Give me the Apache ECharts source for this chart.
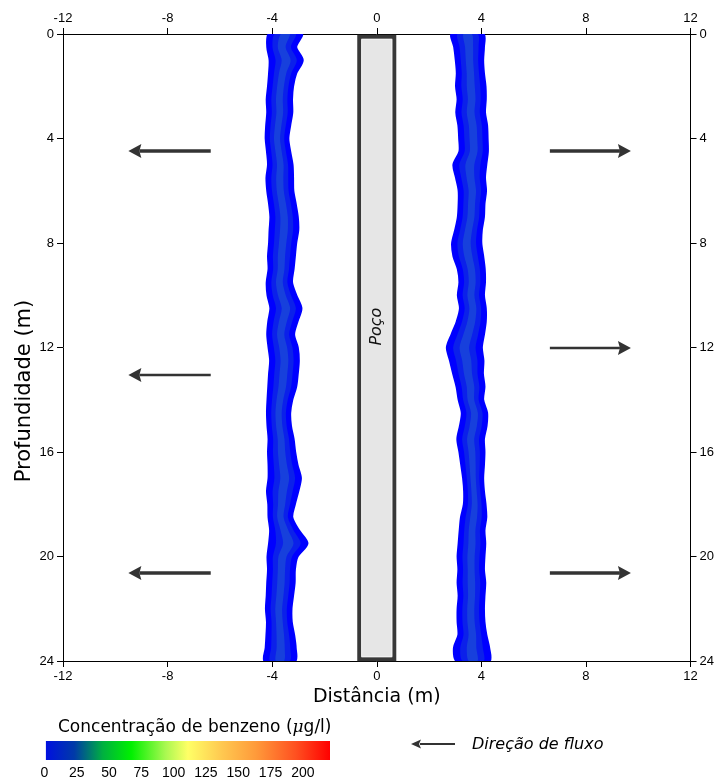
<!DOCTYPE html>
<html><head><meta charset="utf-8">
<script src="https://cdn.jsdelivr.net/npm/echarts@6/dist/echarts.min.js"></script>
<style>html,body{margin:0;padding:0;background:#fff}#c{width:717px;height:782px}</style>
</head><body><div id="c"></div>
<script>
// ---- data ----
const depths = [0,0.5,1,1.5,2,2.5,3,3.5,4,4.5,5,5.5,6,6.5,7,7.5,8,8.5,9,9.5,10,10.5,11,11.5,12,12.5,13,13.5,14,14.5,15,15.5,16,16.5,17,17.5,18,18.5,19,19.5,20,20.5,21,21.5,22,22.5,23,23.5,24];
// left plume: left edge / right edge (m)
const leftBandL = [-4.10,-4.17,-4.08,-4.10,-4.14,-4.19,-4.17,-4.21,-4.23,-4.18,-4.14,-4.20,-4.17,-4.10,-4.05,-4.08,-4.10,-4.14,-4.12,-4.19,-4.16,-4.05,-4.13,-4.17,-4.12,-4.06,-4.10,-4.13,-4.16,-4.18,-4.16,-4.12,-4.14,-4.12,-4.12,-4.18,-4.13,-4.12,-4.06,-4.10,-4.16,-4.14,-4.17,-4.19,-4.22,-4.18,-4.20,-4.23,-4.27];
const leftBandR = [-2.89,-3.10,-2.85,-3.10,-3.22,-3.26,-3.25,-3.33,-3.40,-3.33,-3.24,-3.22,-3.21,-3.12,-3.04,-3.02,-3.10,-3.15,-3.20,-3.26,-3.10,-2.90,-3.05,-3.18,-3.04,-3.00,-3.04,-3.10,-3.25,-3.33,-3.30,-3.20,-3.14,-3.05,-2.92,-3.02,-3.15,-3.25,-3.00,-2.67,-3.05,-3.15,-3.16,-3.22,-3.28,-3.27,-3.18,-3.12,-3.14];
// right plume: left edge / right edge (m)
const rightBandL = [2.89,2.98,3.04,3.08,3.05,3.11,3.06,3.14,3.17,3.18,2.95,3.05,3.15,3.15,3.12,3.02,2.90,2.95,3.12,3.18,3.12,3.20,3.08,2.88,2.70,2.82,2.94,3.07,3.15,3.27,3.20,3.10,3.18,3.25,3.32,3.36,3.35,3.24,3.19,3.15,3.11,3.14,3.11,3.15,3.11,3.11,3.14,2.97,3.08];
const rightBandR = [4.06,4.08,4.05,4.08,4.14,4.15,4.12,4.20,4.22,4.23,4.17,4.12,4.16,4.10,4.08,4.00,3.98,4.05,4.11,4.12,4.08,4.15,4.15,4.08,4.00,4.06,4.04,4.10,4.05,4.20,4.18,4.08,4.10,4.08,4.05,4.08,4.14,4.17,4.10,4.13,4.10,4.08,4.13,4.10,4.08,4.10,4.17,4.28,4.29];
// well (poço)
const wellX = [-0.67, 0.67];
const wellDepth = [0.11, 23.93];
const wellLabel = ['Poço', 0, 11.2];
// flow arrows: depth, start x, tip x
const arrowDepth = [4.48, 13.05, 20.63, 4.48, 12.02, 20.63];
const arrowFrom  = [-6.35, -6.35, -6.35, 6.62, 6.62, 6.62];
const arrowTo    = [-9.5, -9.5, -9.5, 9.72, 9.72, 9.72];
// colour bar
const cbRange = [0, 221];
const cbTicks = [0, 25, 50, 75, 100, 125, 150, 175, 200];

// ---- styles ----
const arrowStroke = [3.5, 2.5, 3.5, 3.5, 2.5, 3.5];
const tickFont = 'Liberation Sans';
const nameFont = 'DejaVu Sans';

function bandRender(L, R) {
  return function (params, api) {
    const layers = [[1, '#0000ff', 1, 3], [0.66, '#0b20ea', 1, 0], [0.28, '#1d4fd6', 0.7, 0]];
    const children = layers.map(function (ly) {
      const f = ly[0];
      const pts = [];
      for (let i = 0; i < depths.length; i++) {
        const c = (L[i] + R[i]) / 2, h = (R[i] - L[i]) / 2 * f;
        pts.push(api.coord([c - h, depths[i]]));
      }
      for (let i = depths.length - 1; i >= 0; i--) {
        const c = (L[i] + R[i]) / 2, h = (R[i] - L[i]) / 2 * f;
        pts.push(api.coord([c + h, depths[i]]));
      }
      return { type: 'polygon', shape: { points: pts, smooth: 0.3 },
        style: { fill: ly[1], opacity: ly[2], stroke: ly[3] ? ly[1] : null, lineWidth: ly[3], lineJoin: 'round' } };
    });
    return { type: 'group', children: children };
  };
}

const baseX = {
  gridIndex: 0, type: 'value', min: -12, max: 12, interval: 4,
  axisLine: { onZero: false, lineStyle: { color: '#000', width: 1 } },
  axisTick: { length: 6, lineStyle: { color: '#000' } },
  axisLabel: { fontFamily: tickFont, fontSize: 13, color: '#000', margin: 9 },
  splitLine: { show: false }
};
const baseY = {
  gridIndex: 0, type: 'value', inverse: true, min: 0, max: 24, interval: 4,
  axisLine: { onZero: false, lineStyle: { color: '#000', width: 1 } },
  axisTick: { length: 6, lineStyle: { color: '#000' } },
  axisLabel: { fontFamily: tickFont, fontSize: 13, color: '#000', margin: 9 },
  splitLine: { show: false }
};

const chart = echarts.init(document.getElementById('c'), null, { renderer: 'canvas' });
chart.setOption({
  animation: false,
  backgroundColor: '#fff',
  grid: [
    { left: 63, right: 25, top: 34, bottom: 121 },
    { left: 44.4, width: 285.6, top: 741, height: 19 }
  ],
  xAxis: [
    Object.assign({}, baseX, { position: 'bottom', name: 'Distância (m)', nameLocation: 'middle', nameGap: 24,
      nameTextStyle: { fontFamily: nameFont, fontSize: 19, color: '#000' } }),
    Object.assign({}, baseX, { position: 'top' }),
    { gridIndex: 1, type: 'value', min: cbRange[0], max: cbRange[1], interval: 25,
      axisLine: { show: false }, axisTick: { show: false }, splitLine: { show: false },
      axisLabel: { showMaxLabel: false, fontFamily: tickFont, fontSize: 14, color: '#000', margin: 6 } }
  ],
  yAxis: [
    Object.assign({}, baseY, { position: 'left' }),
    Object.assign({}, baseY, { position: 'right' }),
    { gridIndex: 1, type: 'value', min: 0, max: 1, show: false }
  ],
  series: [
    { type: 'custom', xAxisIndex: 0, yAxisIndex: 0, clip: true, data: [[0, 0]], renderItem: bandRender(leftBandL, leftBandR), silent: true },
    { type: 'custom', xAxisIndex: 0, yAxisIndex: 0, clip: true, data: [[0, 0]], renderItem: bandRender(rightBandL, rightBandR), silent: true },
    { type: 'custom', xAxisIndex: 0, yAxisIndex: 0, clip: false, data: [[wellX[0], wellDepth[0], wellX[1], wellDepth[1]]], silent: true,
      renderItem: function (params, api) {
        const p0 = api.coord([api.value(0), api.value(1)]);
        const p1 = api.coord([api.value(2), api.value(3)]);
        return { type: 'group', children: [
          { type: 'rect', shape: { x: p0[0], y: p0[1], width: p1[0] - p0[0], height: p1[1] - p0[1] },
            style: { fill: '#e6e6e6', stroke: '#383838', lineWidth: 4 } },
          { type: 'rect', shape: { x: p0[0] + 2.5, y: p0[1] + 2.5, width: p1[0] - p0[0] - 5, height: p1[1] - p0[1] - 5 },
            style: { fill: 'none', stroke: '#f4f4f4', lineWidth: 1 } }
        ] };
      } },
    { type: 'custom', xAxisIndex: 0, yAxisIndex: 0, clip: false, data: [[wellLabel[1], wellLabel[2]]], silent: true,
      renderItem: function (params, api) {
        const p = api.coord([api.value(0), api.value(1)]);
        return { type: 'text', x: p[0], y: p[1], rotation: Math.PI / 2,
          style: { text: wellLabel[0], font: 'italic 16px "DejaVu Sans"', fill: '#111', align: 'center', verticalAlign: 'middle' } };
      } },
    { type: 'custom', xAxisIndex: 0, yAxisIndex: 0, clip: false, silent: true,
      data: arrowDepth.map(function (d, i) { return [arrowFrom[i], d, arrowTo[i]]; }),
      renderItem: function (params, api) {
        const a = api.coord([api.value(0), api.value(1)]);
        const b = api.coord([api.value(2), api.value(1)]);
        const dir = b[0] > a[0] ? 1 : -1;
        const hl = 13, hw = 7;
        const w = arrowStroke[params.dataIndex];
        return { type: 'group', children: [
          { type: 'line', shape: { x1: a[0], y1: a[1], x2: b[0] - dir * (hl - 2), y2: b[1] }, style: { stroke: '#333', lineWidth: w } },
          { type: 'polygon', shape: { points: [[b[0], b[1]], [b[0] - dir * hl, b[1] - hw], [b[0] - dir * (hl - 2), b[1]], [b[0] - dir * hl, b[1] + hw]] },
            style: { fill: '#333' } }
        ] };
      } },
    { type: 'custom', xAxisIndex: 2, yAxisIndex: 2, clip: false, silent: true, data: [[cbRange[0], cbRange[1]]],
      renderItem: function (params, api) {
        const p0 = api.coord([api.value(0), 1]);
        const p1 = api.coord([api.value(1), 0]);
        return { type: 'rect', shape: { x: p0[0] + 1.5, y: p0[1], width: p1[0] - p0[0] - 1.5, height: p1[1] - p0[1] },
          style: { fill: new echarts.graphic.LinearGradient(0, 0, 1, 0, [
            { offset: 0, color: '#0010e0' },
            { offset: 0.1, color: '#003aa8' },
            { offset: 0.2, color: '#00b040' },
            { offset: 0.3, color: '#00f000' },
            { offset: 0.42, color: '#a8f850' },
            { offset: 0.5, color: '#ffff66' },
            { offset: 0.62, color: '#ffc850' },
            { offset: 0.74, color: '#ff9a3a' },
            { offset: 0.88, color: '#ff5020' },
            { offset: 1, color: '#ff0000' }
          ]) } };
      } }
  ],
  graphic: [
    { type: 'text', x: 25, y: 391, rotation: Math.PI / 2,
      style: { text: 'Profundidade (m)', font: '21px "DejaVu Sans"', fill: '#000', align: 'center', verticalAlign: 'middle' } },
    { type: 'text', left: 58, top: 719, style: { rich: {
        a: { fontFamily: nameFont, fontSize: 17, fill: '#000' },
        mu: { fontFamily: 'DejaVu Serif', fontStyle: 'italic', fontSize: 17, fill: '#000' } },
        text: '{a|Concentração de benzeno (}{mu|μ}{a|g/l)}' } },
    { type: 'line', shape: { x1: 420, y1: 744, x2: 455, y2: 744 }, style: { stroke: '#333', lineWidth: 2 } },
    { type: 'polygon', shape: { points: [[411, 744], [421, 739.5], [419, 744], [421, 748.5]] }, style: { fill: '#333' } },
    { type: 'text', left: 472, top: 737, style: { text: 'Direção de fluxo', font: 'italic 16px "DejaVu Sans"', fill: '#000' } }
  ]
});
</script>
</body></html>
